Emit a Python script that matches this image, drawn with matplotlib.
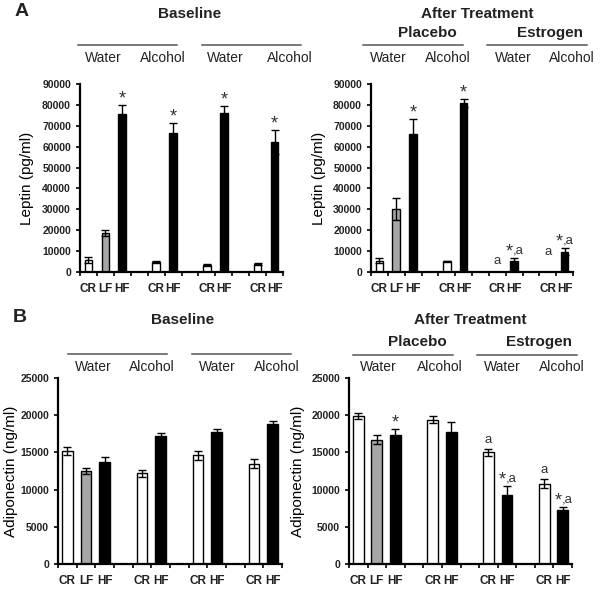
import matplotlib
matplotlib.use("Agg")
import matplotlib.pyplot as plt
from matplotlib.lines import Line2D

plt.rcParams['font.family'] = ['Liberation Sans', 'DejaVu Sans']

# bar slots (12 per panel) and their labels
slots = [0, 1, 2, 4, 5, 7, 8, 10, 11]
diet = ["CR", "LF", "HF", "CR", "HF", "CR", "HF", "CR", "HF"]
fills = ["white", "#a6a6a6", "black", "white", "black", "white", "black", "white", "black"]

# Leptin (pg/ml)
lep_base = [5800, 18600, 75500, 4600, 66500, 3500, 76000, 3800, 62200]
lep_base_err = [1600, 1500, 4400, 500, 4800, 500, 3400, 500, 5800]
lep_treat = [5400, 30000, 66200, 5100, 81000, 0, 5400, 0, 9800]
lep_treat_err = [1200, 5200, 7100, 400, 1900, 0, 1300, 0, 1900]

# Adiponectin (ng/ml)
adi_base = [15200, 12500, 13700, 12200, 17200, 14600, 17800, 13500, 18800]
adi_base_err = [500, 450, 650, 450, 400, 600, 400, 650, 400]
adi_treat = [19900, 16700, 17400, 19400, 17700, 15000, 9300, 10800, 7200]
adi_treat_err = [350, 600, 800, 450, 1400, 450, 1200, 600, 500]

# significance marks: (bar index, text)
lep_base_marks = [(2, "*"), (4, "*"), (6, "*"), (8, "*")]
lep_treat_marks = [(2, "*"), (4, "*"), (5, "a"), (6, "*,a"), (7, "a"), (8, "*,a")]
adi_base_marks = []
adi_treat_marks = [(2, "*"), (5, "a"), (6, "*,a"), (7, "a"), (8, "*,a")]

W, H = 600, 591
fig = plt.figure(figsize=(6, 5.91), dpi=100)


def fx(x):
    return x / W


def fy(y):
    return 1 - y / H


def mark(ax, x, y, txt, dx=0, dy=0, size=9.5, ha="center", va="bottom"):
    ax.annotate(txt, (x, y), xytext=(dx, dy), textcoords="offset points",
                ha=ha, va=va, fontsize=size, color="#333333")


def panel(rect, vals, errs, marks, ymax, ystep, ylabel, width):
    x0, y0, x1, y1 = rect
    ax = fig.add_axes([fx(x0), fy(y1), fx(x1) - fx(x0), fy(y0) - fy(y1)])
    ax.bar(slots, vals, width=width, color=fills, edgecolor="black", linewidth=1.0, zorder=2)
    ax.errorbar(slots, vals, yerr=errs, fmt="none", ecolor="black", elinewidth=1.0,
                capsize=3, capthick=1.0, zorder=3)
    for i, txt in marks:
        top = vals[i] + errs[i]
        if vals[i] <= 0:
            # letter sits beside the empty estrogen bar
            mark(ax, slots[i], vals[i + 1], txt, va="center")
        elif txt == "*":
            mark(ax, slots[i], top, txt, dy=-2, size=13)
        elif txt == "a":
            mark(ax, slots[i], top, txt, dy=2)
        else:
            # bigger star followed by ",a"
            mark(ax, slots[i], top, "*", dx=-1, dy=-2, size=13, ha="right")
            mark(ax, slots[i], top, ",a", dx=-1, dy=1, ha="left")
    ax.set_xlim(-0.5, 11.5)
    ax.set_ylim(0, ymax)
    ax.set_yticks(range(0, ymax + 1, ystep))
    ax.set_xticks([i - 0.5 for i in range(13)])
    ax.set_xticklabels([])
    ax.set_xticks(slots, minor=True)
    ax.set_xticklabels(diet, minor=True)
    ax.tick_params(axis="x", which="major", length=3, width=1.2, direction="out")
    ax.tick_params(axis="x", which="minor", length=0, pad=8, labelsize=8.5)
    ax.tick_params(axis="y", length=3, width=1.2, labelsize=7.5)
    for lab in ax.get_yticklabels() + ax.get_xticklabels(minor=True):
        lab.set_fontweight("bold")
        lab.set_color("#222222")
    for s in ["top", "right"]:
        ax.spines[s].set_visible(False)
    for s in ["left", "bottom"]:
        ax.spines[s].set_linewidth(1.6)
    ax.set_ylabel(ylabel, fontsize=11)
    return ax


def header_line(xa, xb, y):
    fig.add_artist(Line2D([fx(xa), fx(xb)], [fy(y), fy(y)], transform=fig.transFigure,
                          color="#555555", linewidth=1.1))


def label(x, y, txt, size=10, bold=False):
    fig.text(fx(x), fy(y), txt, ha="center", va="center", fontsize=size,
             fontweight="bold" if bold else "normal", color="#222222")


# Panel A
axA1 = panel((80, 84, 283, 272), lep_base, lep_base_err, lep_base_marks, 90000, 10000,
             "Leptin (pg/ml)", 0.45)
axA2 = panel((371, 84, 573, 272), lep_treat, lep_treat_err, lep_treat_marks, 90000, 10000,
             "Leptin (pg/ml)", 0.45)
axA1.yaxis.set_label_coords(-0.225, 0.5)
axA2.yaxis.set_label_coords(-0.222, 0.5)

label(22, 12, "A", 14, True)
label(190, 14, "Baseline", 11, True)
label(477, 14, "After Treatment", 11, True)
label(427, 33, "Placebo", 11, True)
label(550, 33, "Estrogen", 11, True)
header_line(78, 177, 45)
header_line(202, 301, 45)
header_line(363, 463, 45)
header_line(487, 587, 45)
for x, t in [(103, "Water"), (163, "Alcohol"), (225, "Water"), (290, "Alcohol"),
             (388, "Water"), (448, "Alcohol"), (513, "Water"), (572, "Alcohol")]:
    label(x, 58, t)

# Panel B
axB1 = panel((58, 378, 282, 564), adi_base, adi_base_err, adi_base_marks, 25000, 5000,
             "Adiponectin (ng/ml)", 0.58)
axB2 = panel((349, 378, 572, 564), adi_treat, adi_treat_err, adi_treat_marks, 25000, 5000,
             "Adiponectin (ng/ml)", 0.58)
axB1.yaxis.set_label_coords(-0.18, 0.5)
axB2.yaxis.set_label_coords(-0.197, 0.5)

label(20, 317, "B", 14, True)
label(183, 320, "Baseline", 11, True)
label(470, 320, "After Treatment", 11, True)
label(417, 342, "Placebo", 11, True)
label(539, 342, "Estrogen", 11, True)
header_line(68, 167, 354)
header_line(192, 291, 354)
header_line(353, 453, 355)
header_line(477, 577, 355)
for x, t in [(93, "Water"), (152, "Alcohol"), (217, "Water"), (277, "Alcohol"),
             (378, "Water"), (440, "Alcohol"), (502, "Water"), (562, "Alcohol")]:
    label(x, 367, t)

fig.savefig("out.png", dpi=100)
